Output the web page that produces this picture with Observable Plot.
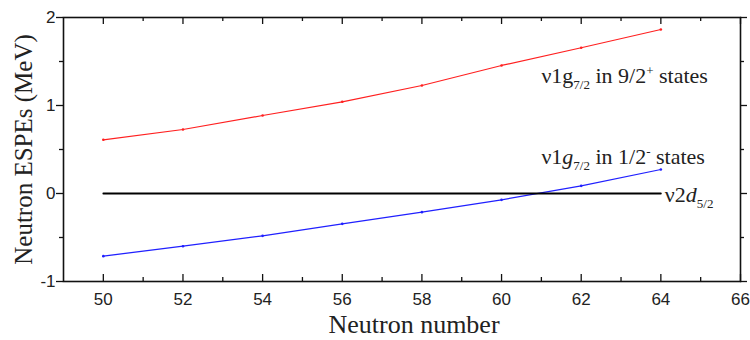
<!DOCTYPE html>
<html>
<head>
<meta charset="utf-8">
<script src="https://cdn.jsdelivr.net/npm/d3@7"></script>
<script src="https://cdn.jsdelivr.net/npm/@observablehq/plot@0.6"></script>
<style>
  html, body { margin: 0; padding: 0; background: white; }
</style>
</head>
<body>
<div id="chart"></div>
<script>
// Neutron number (x)
const neutronNumber = [50, 52, 54, 56, 58, 60, 62, 64];
// ν1g7/2 ESPE in 9/2+ states (MeV)
const g72in92 = [0.61, 0.727, 0.886, 1.042, 1.227, 1.455, 1.656, 1.864];
// ν1g7/2 ESPE in 1/2- states (MeV)
const g72in12 = [-0.712, -0.599, -0.481, -0.345, -0.212, -0.072, 0.087, 0.273];
// ν2d5/2 reference (MeV)
const d52 = [0, 0, 0, 0, 0, 0, 0, 0];

// tick values
const xMajor = [50, 52, 54, 56, 58, 60, 62, 64, 66];
const xMinor = [51, 53, 55, 57, 59, 61, 63, 65];
const yMajor = [-1, 0, 1, 2];
const yMinor = [-0.5, 0.5, 1.5];

// series annotations (rich text: [text, kind])
const seriesLabels = [
  {key: "lab92", x: 61.0, y: 1.26, parts: [["ν1", ""], ["g", ""], ["7/2", "sub"], [" in 9/2", ""], ["+", "sup"], [" states", ""]]},
  {key: "lab12", x: 61.0, y: 0.34, parts: [["ν1", ""], ["g", "it"], ["7/2", "sub"], [" in 1/2", ""], ["-", "sup"], [" states", ""]]},
  {key: "labd52", x: 64.1, y: -0.10, parts: [["ν2", ""], ["d", "it"], ["5/2", "sub"]]}
];

const series = [
  {name: "g72in92", color: "#ff2020", values: g72in92, width: 1.2},
  {name: "g72in12", color: "#2020ff", values: g72in12, width: 1.2},
  {name: "d52", color: "#000000", values: d52, width: 1.8}
];
const rows = series.flatMap(s => neutronNumber.map((n, i) => ({series: s.name, n, v: s.values[i]})));

const [yLo, yHi] = [yMajor[0], yMajor[yMajor.length - 1]];
const serif = "'Liberation Serif', 'Times New Roman', serif";
const sans = "'Liberation Sans', Arial, sans-serif";

const plot = Plot.plot({
  width: 750,
  height: 340,
  marginTop: 17,
  marginRight: 10,
  marginBottom: 59,
  marginLeft: 63,
  style: {fontFamily: sans, fontSize: "17px", background: "white", color: "#222"},
  x: {domain: [49, 66], label: null},
  y: {domain: [yLo, yHi], label: null},
  marks: [
    // inward ticks: bottom / top
    Plot.ruleX(xMajor, {x: d => d, y1: yLo, y2: yLo, insetBottom: 7, stroke: "#111", strokeWidth: 1.3}),
    Plot.ruleX(xMinor, {x: d => d, y1: yLo, y2: yLo, insetBottom: 4, stroke: "#111", strokeWidth: 1.3}),
    Plot.ruleX(xMajor, {x: d => d, y1: yHi, y2: yHi, insetTop: 7, stroke: "#111", strokeWidth: 1.3}),
    Plot.ruleX(xMinor, {x: d => d, y1: yHi, y2: yHi, insetTop: 4, stroke: "#111", strokeWidth: 1.3}),
    // inward ticks: left / right
    Plot.ruleY(yMajor, {y: d => d, x1: 49, x2: 49, insetRight: 7, stroke: "#111", strokeWidth: 1.3}),
    Plot.ruleY(yMinor, {y: d => d, x1: 49, x2: 49, insetRight: 4, stroke: "#111", strokeWidth: 1.3}),
    Plot.ruleY(yMajor, {y: d => d, x1: 66, x2: 66, insetLeft: 7, stroke: "#111", strokeWidth: 1.3}),
    Plot.ruleY(yMinor, {y: d => d, x1: 66, x2: 66, insetLeft: 4, stroke: "#111", strokeWidth: 1.3}),
    // tick labels
    Plot.axisX(xMajor, {tickSize: 0, tickPadding: 11, fontSize: 17, fill: "#222", label: null, tickFormat: d => String(d)}),
    Plot.axisY(yMajor, {tickSize: 0, tickPadding: 8, fontSize: 17, fill: "#222", label: null, tickFormat: d => String(d)}),
    // series
    ...series.map(s => Plot.line(rows.filter(r => r.series === s.name), {x: "n", y: "v", stroke: s.color, strokeWidth: s.width})),
    ...series.slice(0, 2).map(s => Plot.dot(rows.filter(r => r.series === s.name), {x: "n", y: "v", r: 1.3, fill: s.color, stroke: null})),
    // annotations
    Plot.text(seriesLabels, {x: "x", y: "y", text: "key", textAnchor: "start", lineAnchor: "bottom", fontFamily: serif, fontSize: 22, fill: "#222"}),
    // axis titles
    Plot.text(["Neutron ESPEs (MeV)"], {frameAnchor: "left", text: d => d, rotate: -90, dx: -32, textAnchor: "middle", lineAnchor: "bottom", fontFamily: serif, fontSize: 25, fill: "#222"}),
    Plot.text(["Neutron number"], {frameAnchor: "bottom", text: d => d, dx: 12, dy: 51, textAnchor: "middle", lineAnchor: "bottom", fontFamily: serif, fontSize: 26, fill: "#222"}),
    Plot.frame({stroke: "#111", strokeWidth: 1.6})
  ]
});

// build rich text (subscripts / superscripts) for the annotations
const byKey = new Map(seriesLabels.map(l => [l.key, l]));
d3.select(plot).selectAll("text").each(function () {
  const lab = byKey.get(this.textContent);
  if (!lab) return;
  const t = d3.select(this);
  t.text(null);
  let shift = 0;
  for (const [txt, kind] of lab.parts) {
    const span = t.append("tspan").text(txt);
    let target = 0;
    if (kind === "sub") { target = 6; span.attr("font-size", 13); }
    else if (kind === "sup") { target = -8; span.attr("font-size", 13); }
    else if (kind === "it") { span.attr("font-style", "italic"); }
    if (target !== shift) { span.attr("dy", target - shift); shift = target; }
  }
});

document.getElementById("chart").appendChild(plot);
</script>
</body>
</html>
